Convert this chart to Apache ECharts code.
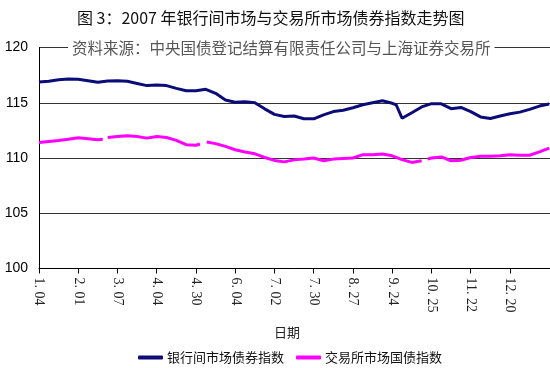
<!DOCTYPE html>
<html>
<head>
<meta charset="utf-8">
<script src="https://cdn.jsdelivr.net/npm/echarts@6/dist/echarts.min.js"></script>
<style>html,body{margin:0;padding:0;background:#fff}#c{width:550px;height:368px}</style>
</head>
<body>
<div id="c"></div>
<script>
// Tick labels, one every 20 trading days
var tickLabels = ['1. 04','2. 01','3. 07','4. 04','4. 30','6. 04','7. 02','7. 30','8. 27','9. 24','10. 25','11. 22','12. 20'];
var tickStep = 20;

// Interbank bond index (trading-day index, value)
var bankDays = [0,5,10,15,20,25,30,35,40,45,50,55,60,65,70,75,80,85,90,95,100,105,110,115,120,125,130,135,140,145,150,155,160,165,170,175,180,182,185,190,195,200,205,210,215,220,225,230,235,240,245,250,255,260];
var bankValues = [116.87,116.95,117.08,117.14,117.12,117.0,116.85,116.96,117.0,116.95,116.75,116.55,116.6,116.55,116.3,116.08,116.08,116.22,115.85,115.25,115.05,115.1,115.0,114.45,113.95,113.75,113.8,113.55,113.55,113.9,114.2,114.32,114.55,114.82,115.0,115.18,114.95,114.82,113.6,114.1,114.62,114.92,114.9,114.46,114.58,114.2,113.72,113.58,113.8,114.0,114.15,114.4,114.7,114.88];

// Exchange treasury index ('-' marks a gap in the data)
var exchDays = [0,5,10,15,20,25,30,32.5,33.5,35,40,45,50,55,60,65,70,75,80,82,83.5,85.5,90,95,100,105,110,115,120,125,130,135,140,145,150,155,160,165,170,175,180,185,190,195,196.5,198,200,205,210,215,220,225,230,235,240,245,250,255,260];
var exchValues = [111.41,111.5,111.58,111.7,111.84,111.75,111.65,111.7,'-',111.85,111.95,112.02,111.95,111.8,111.95,111.85,111.6,111.2,111.15,111.27,'-',111.45,111.3,111.05,110.75,110.55,110.38,110.05,109.78,109.65,109.83,109.9,110.0,109.75,109.9,109.95,110.0,110.3,110.3,110.36,110.2,109.85,109.6,109.75,'-',109.9,110.0,110.1,109.75,109.8,110.05,110.15,110.15,110.2,110.3,110.25,110.25,110.55,110.9];

var seriesNames = ['银行间市场债券指数','交易所市场国债指数'];

function pairs(xs, ys){ return xs.map(function(x,i){ return [x, ys[i]]; }); }
var tickDays = tickLabels.map(function(_, i){ return i * tickStep; });

var chart = echarts.init(document.getElementById('c'), null, {renderer:'canvas'});
chart.setOption({
  animation: false,
  backgroundColor: '#fff',
  title: [
    {text: '图 3：2007 年银行间市场与交易所市场债券指数走势图', left: 72, top: 5,
     textStyle: {fontFamily: 'Noto Sans CJK SC', fontSize: 16, fontWeight: 'normal', color: '#111'}},
    {text: '资料来源：中央国债登记结算有限责任公司与上海证券交易所', left: 68, top: 39,
     backgroundColor: '#fff', padding: [0, 4, 0, 4],
     textStyle: {fontFamily: 'Noto Sans CJK SC', fontSize: 15.5, fontWeight: 'normal', color: '#555', lineHeight: 18}},
    {text: '日期', left: 274, top: 326, padding: 0,
     textStyle: {fontFamily: 'Noto Sans CJK SC', fontSize: 13, fontWeight: 'normal', color: '#222'}}
  ],
  legend: {
    left: 133, top: 346, itemWidth: 25, itemHeight: 4, itemGap: 12, icon: 'roundRect',
    textStyle: {fontFamily: 'Noto Sans CJK SC', fontSize: 13, color: '#111', padding: [0,0,0,-1]},
    data: seriesNames
  },
  grid: {left: 39, right: 0, top: 47.5, bottom: 99.5, containLabel: false},
  xAxis: {
    type: 'value', min: 0, max: 260.4,
    axisLine: {show: true, lineStyle: {color: '#000', width: 1}},
    axisTick: {show: true, length: 5, customValues: tickDays, lineStyle: {color: '#000'}},
    axisLabel: {customValues: tickDays, rotate: -90, margin: 9,
      fontFamily: 'Liberation Serif', fontSize: 14, color: '#222',
      formatter: function(v){ var i = Math.round(v / tickStep); return tickLabels[i] || ''; }},
    splitLine: {show: false}
  },
  yAxis: {
    type: 'value', min: 100, max: 120, interval: 5,
    axisLine: {show: true, lineStyle: {color: '#000', width: 1}},
    axisTick: {show: false},
    axisLabel: {margin: 11, fontFamily: 'Liberation Sans', fontSize: 14, color: '#000'},
    splitLine: {show: true, lineStyle: {color: '#333', width: 1}}
  },
  series: [
    {name: seriesNames[0], type: 'line', data: pairs(bankDays, bankValues), showSymbol: false,
     symbol: 'none', lineStyle: {color: '#0c0c78', width: 3}, itemStyle: {color: '#0c0c78'}, z: 3},
    {name: seriesNames[1], type: 'line', data: pairs(exchDays, exchValues), showSymbol: false,
     symbol: 'none', connectNulls: false, lineStyle: {color: '#ff00ff', width: 3}, itemStyle: {color: '#ff00ff'}, z: 2}
  ]
});
</script>
</body>
</html>
